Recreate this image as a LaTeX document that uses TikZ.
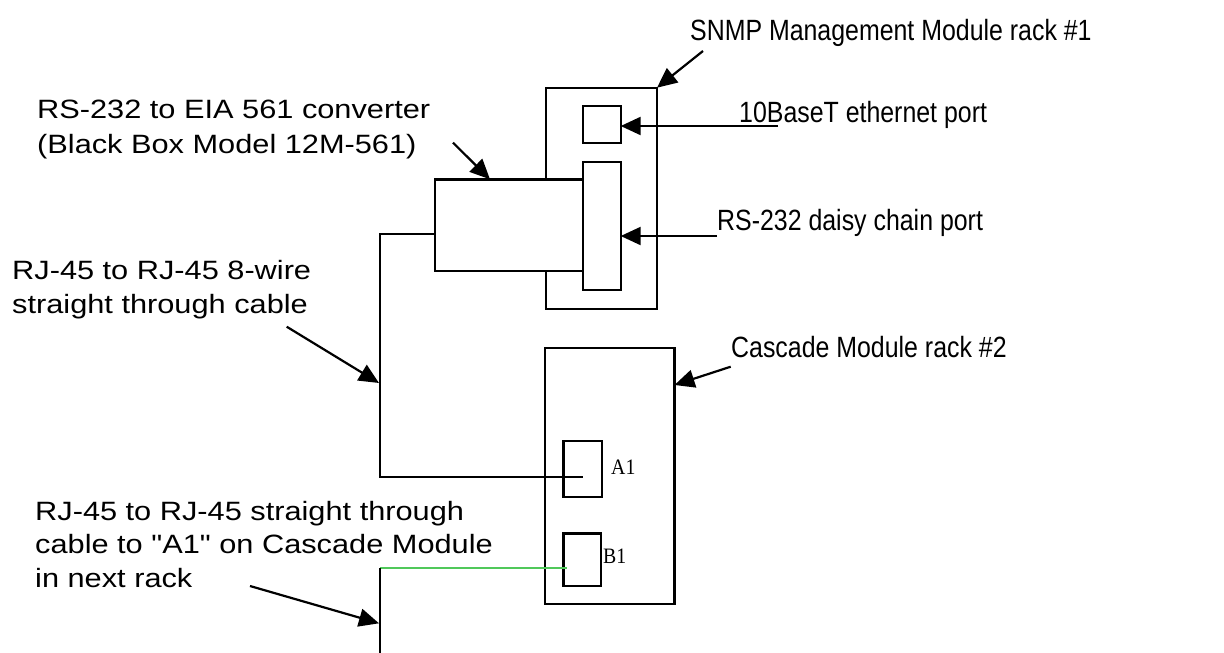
\documentclass[tikz,border=0pt]{standalone}
\usepackage{fontspec}
\usetikzlibrary{arrows.meta,calc}
\newfontfamily\narrowsans[FakeStretch=0.85]{Liberation Sans}
\newfontfamily\widesans[FakeStretch=1.16]{Liberation Sans}
\newfontfamily\portserif[FakeStretch=0.9]{Liberation Serif}
\definecolor{cablegreen}{RGB}{80,200,90}
\tikzset{
  box/.style={draw, line width=2.4pt, fill=white, inner sep=0pt, outer sep=0pt},
  lblR/.style={anchor=base west, inner sep=0pt, font=\narrowsans\fontsize{29.3}{33}\selectfont},
  lblL/.style={anchor=base west, inner sep=0pt, align=left, font=\widesans\fontsize{26.5}{33.5}\selectfont},
  lblP/.style={anchor=base west, inner sep=0pt, font=\portserif\fontsize{22}{24}\selectfont},
  wire/.style={line width=2.2pt},
  ptr/.style={line width=2.2pt, -{Triangle[length=20pt,width=18pt]}}
}
\begin{document}
\begin{tikzpicture}[x=1pt,y=-1pt]
\useasboundingbox (0,0) rectangle (1224,653);
% SNMP rack
\node[box, minimum width=111.3pt, minimum height=221.3pt] (rack1) at (601.35,198.35) {};
% converter
\node[box, minimum width=148pt, minimum height=91.7pt] (conv) at (509,225.15) {};
% ports on rack 1
\node[box, minimum width=37.7pt, minimum height=37pt] (eth) at (601.85,124.5) {};
\node[box, minimum width=37.7pt, minimum height=128.3pt] (serial) at (601.85,225.85) {};
% Cascade rack
\node[box, minimum width=129.5pt, minimum height=256pt] (rack2) at (609.75,476) {};
\node[box, minimum width=38.4pt, minimum height=55.7pt] (a1) at (582.5,468.85) {};
\node[box, minimum width=37.4pt, minimum height=52.7pt] (b1) at (582,559.65) {};

% labels
\node[lblR] (tsnmp) at (690,40) {SNMP Management Module rack \#1};
\node[lblR] (teth) at (739,122) {10BaseT ethernet port};
\node[lblR] (tser) at (717,230) {RS-232 daisy chain port};
\node[lblR] (tcasc) at (731,357) {Cascade Module rack \#2};
\node[lblL, font=\widesans\fontsize{26.5}{35}\selectfont] (tconv) at (37,153) {RS-232 to EIA 561 converter\\(Black Box Model 12M-561)};
\node[lblL] (tcab1) at (12,313) {RJ-45 to RJ-45 8-wire\\straight through cable};
\node[lblL] (tcab2) at (35,587) {RJ-45 to RJ-45 straight through\\cable to "A1" on Cascade Module\\in next rack};
\node[lblP] (ta1) at (611,474) {A1};
\node[lblP] (tb1) at (603,563) {B1};

% cable 1: converter to A1
\coordinate (c1s) at (conv.west |- 0,234);
\coordinate (c1a) at (380,234);
\coordinate (c1b) at (380,476.7);
\coordinate (c1e) at (582.7,476.7);
\draw[wire] (c1s) -- (c1a) -- (c1b) -- (c1e);
% cable 2: B1 to next rack
\coordinate (c2s) at (566.7,568.3);
\coordinate (c2a) at (380,568.3);
\coordinate (c2e) at (380,653);
\draw[line width=2pt, cablegreen] (c2s) -- (c2a);
\draw[wire] (c2a) -- (c2e);

% pointer arrows
\coordinate (p1) at (703,51);
\draw[ptr] (p1) -- (rack1.north east);
\coordinate (p2) at (453,142.7);
\draw[ptr] (p2) -- ($(conv.north west)+(55,0)$);
\coordinate (p3) at (778,126);
\draw[ptr] (p3) -- (eth.east |- p3);
\coordinate (p4) at (717,236);
\draw[ptr] (p4) -- (serial.east |- p4);
\coordinate (p5) at (286.7,326.7);
\coordinate (t5) at (379,383);
\draw[ptr] (p5) -- (t5);
\coordinate (p6) at (250,586);
\coordinate (t6) at (379,623.3);
\draw[ptr] (p6) -- (t6);
\coordinate (p7) at (730.7,366.7);
\draw[ptr] (p7) -- (rack2.east |- 0,385);
\end{tikzpicture}
\end{document}
